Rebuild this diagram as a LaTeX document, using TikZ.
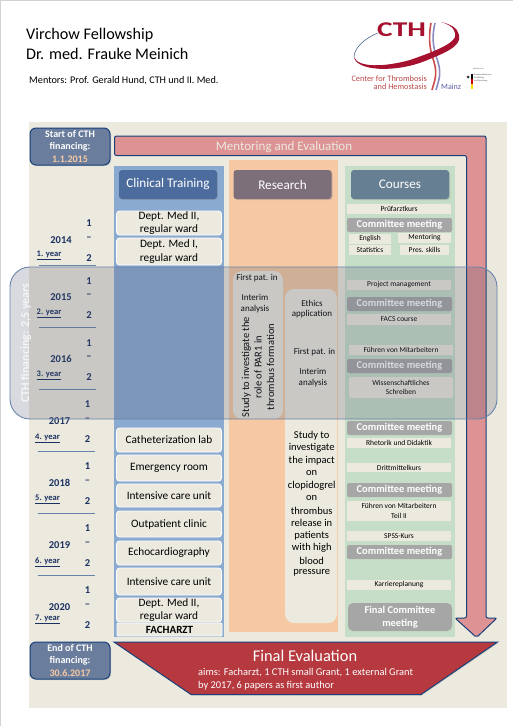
\documentclass[tikz,border=0pt]{standalone}
\usepackage{fontspec}
\setmainfont{Carlito}
\usepackage{tikz}
\usetikzlibrary{shadows}
\definecolor{panelc}{HTML}{ECE9DF}
\definecolor{bluec}{HTML}{8BAAD0}
\definecolor{orangec}{HTML}{F6C9A4}
\definecolor{greenc}{HTML}{C6DDC8}
\definecolor{pinkc}{HTML}{DD9394}
\definecolor{navyc}{HTML}{17407A}
\definecolor{yearc}{HTML}{1B3160}
\definecolor{datec}{HTML}{F6C9A4}
\definecolor{meetc}{HTML}{A6A6A6}
\definecolor{redc}{HTML}{B5393F}
\definecolor{logoc}{HTML}{A5112E}
\definecolor{ovlc}{HTML}{4D566D}
\definecolor{hclinc}{HTML}{4C6C9E}
\definecolor{hresc}{HTML}{7C6F7A}
\definecolor{hcrsc}{HTML}{667F92}
\definecolor{fundc}{HTML}{6B7D9C}
\tikzset{
  fsz/.style={font=\fontsize{#1}{#1}\selectfont},
  hdr/.style={rounded corners=3pt,text=white,minimum width=98pt,minimum height=29pt,inner sep=0pt,fsz=13.2,drop shadow={opacity=.3,shadow xshift=1pt,shadow yshift=-1pt}},
  cell/.style={draw=white,line width=.8pt,fill=panelc,rounded corners=3pt,minimum width=105pt,inner sep=0pt,align=center,font=\fontsize{11.3}{13.7}\selectfont},
  crs/.style={fill=panelc,minimum width=104pt,inner sep=0pt,align=center,font=\fontsize{7.5}{9.2}\selectfont},
  crsb/.style={crs,minimum width=#1},
  meet/.style={fill=meetc,rounded corners=2pt,text=white,minimum width=105pt,minimum height=14pt,inner sep=0pt,align=center,font=\bfseries\fontsize{10.4}{12.5}\selectfont},
  stud/.style={fill=panelc,rounded corners=9pt,inner sep=0pt},
  rtx/.style={inner sep=0pt,align=center,font=\fontsize{9}{10.5}\selectfont},
  big/.style={inner sep=0pt,font=\fontsize{10.5}{12.5}\selectfont},
  fund/.style={draw=navyc,line width=1pt,fill=fundc,rounded corners=6pt,minimum width=80pt,minimum height=37pt,inner sep=0pt,align=center,text=white,font=\bfseries\fontsize{10}{12.3}\selectfont,drop shadow={opacity=.3,shadow xshift=1pt,shadow yshift=-1pt}},
  yr/.style={inner sep=0pt,text=yearc,font=\bfseries\fontsize{10.5}{12}\selectfont},
  yl/.style={inner sep=0pt,text=yearc,font=\bfseries\fontsize{8.5}{10}\selectfont},
  ovl/.style={draw=navyc!65,line width=.9pt,fill=ovlc,fill opacity=.22,rounded corners=20pt,minimum width=487pt,minimum height=152pt,inner sep=0pt}
}
\begin{document}
\begin{tikzpicture}[x=1pt,y=-1pt]
\useasboundingbox (0,0) rectangle (513,726);
\draw[gray!35,line width=1pt] (.5,726) -- (.5,.5) -- (513,.5);
\node[anchor=base west,inner sep=0pt,fsz=16.2] (ttl1) at (26,39) {Virchow Fellowship};
\node[anchor=base west,inner sep=0pt,fsz=16.2] (ttl2) at (26,59) {Dr. med. Frauke Meinich};
\node[anchor=base west,inner sep=0pt,fsz=10.2] (mnt) at (29,83) {Mentors: Prof. Gerald Hund, CTH und II. Med.};
\draw[line width=1.6pt,red!55!gray!90] (431,23) .. controls (428,40) and (430,50) .. (434,62) .. controls (438,75) and (434,82) .. (432,90);
\draw[line width=1.6pt,blue!30!gray!70] (435,23) .. controls (431,40) and (434,50) .. (438,62) .. controls (442,75) and (438,82) .. (436,90);
\fill[logoc] (354,57) .. controls (356,71) and (395,73) .. (425,61) .. controls (445,53) and (462,46) .. (459,35) .. controls (458,28) and (450,24) .. (441,22) .. controls (455,26) and (456,33) .. (455,37) .. controls (452,45) and (430,53) .. (410,60) .. controls (385,67) and (358,68) .. (354,57) -- cycle;
\draw[line width=.5pt,navyc!70!gray] (354,57) .. controls (354,48) and (365,38) .. (378,33);
\node[inner sep=0pt,text=logoc,font=\bfseries\fontsize{21}{21}\selectfont] (cth) at (401.5,29.5) {\scalebox{1.4}[1]{CTH}};
\node[anchor=base east,inner sep=0pt,text=red!45!gray,fsz=8.3] (ctr1) at (427,81) {Center for Thrombosis};
\node[anchor=base east,inner sep=0pt,text=red!45!gray,fsz=8.3] (ctr2) at (427,89.5) {and Hemostasis};
\node[anchor=base west,inner sep=0pt,text=blue!30!gray,fsz=8] (mnz) at (441,89.5) {Mainz};
\fill[black] (471,74) rectangle (473,79);
\fill[red!80!black] (471,79) rectangle (473,84);
\fill[yellow!80!orange] (471,84) rectangle (473,89);
\fill[black!80] (468,77) circle (1.5pt);
\node[anchor=west,inner sep=0pt,align=left,text=black!70,font=\fontsize{2.2}{2.7}\selectfont] (bmb) at (474,78) {Bundesministerium\\für Bildung\\und Forschung};
\node[anchor=west,inner sep=0pt,text=black!70,font=\fontsize{1.8}{2}\selectfont] (gef) at (473,69) {gefördert vom};
\fill[panelc] (29,122) rectangle (507,708);
\node[fund] (fstart) at (70,146.5) {Start of CTH\\financing:\\\textcolor{datec}{1.1.2015}};
\draw[navyc,line width=1pt,fill=pinkc,rounded corners=2pt] (114.5,136) -- (486,136) -- (486,618) -- (497,618) -- (476.5,637.5) -- (455,618) -- (466.5,618) -- (466.5,155.5) -- (114.5,155.5) -- cycle;
\node[inner sep=0pt,text=panelc,fsz=13] (ment) at (284,147) {Mentoring and Evaluation};
\fill[bluec] (114.3,165.7) rectangle (223.7,636.7);
\fill[orangec] (229,160.3) rectangle (338.3,632);
\fill[greenc] (345,165.7) rectangle (455,636.7);
\node[hdr,fill=hclinc] (hclin) at (168,184.5) {Clinical Training};
\node[hdr,fill=hresc] (hres) at (282.5,184.5) {Research};
\node[hdr,fill=hcrsc] (hcrs) at (400,184.5) {Courses};
\foreach \nm/\yy/\hh/\txt in {a/223/24/{Dept. Med II,\\regular ward},b/251.5/27/{Dept. Med I,\\regular ward},c/440/24/Catheterization lab,d/468/26/Emergency room,e/495.5/23/Intensive care unit,f/524/26/Outpatient clinic,g/553/24/Echocardiography,h/581.5/27/Intensive care unit,i/610/24/{Dept. Med II,\\regular ward}}{
  \node[cell,minimum height=\hh pt] (clin\nm) at (169,\yy) {\txt};
}
\node[cell,minimum height=13pt,rounded corners=1pt] (clinj) at (169.5,629.5) {\bfseries\fontsize{11}{12}\selectfont FACHARZT};
\node[stud,minimum width=50pt,minimum height=148pt] (stud1) at (258,345) {};
\node[stud,minimum width=52pt,minimum height=334pt] (stud2) at (311,456) {};
\node[rtx] (fpa) at (257,278) {First pat. in};
\node[rtx] (iaa) at (255,303.5) {Interim\\analysis};
\node[big,rotate=90,align=center] (rot) at (258,367) {Study to investigate the\\role of PAR1 in\\thrombus formation};
\node[rtx] (eth) at (312,309) {Ethics\\application};
\node[rtx] (fpb) at (314.5,352) {First pat. in};
\node[rtx] (iab) at (313,377.5) {Interim\\analysis};
\foreach \yy/\txt [count=\k] in {435.5/Study to,448/investigate,460.5/the impact,473/on,485.5/clopidogrel,498/on,510.5/thrombus,523/release in,535.5/patients,548/with high,560.5/blood,573/pressure}{
  \node[big] (imp\k) at (311.7,\yy) {\txt};
}
\foreach \nm/\yy/\hh/\txt in {a/209/10/Prüfarztkurs,b/285/10/Project management,c/319.5/11/FACS course,d/443/10/Rhetorik und Didaktik,e/467.5/9.5/Drittmittelkurs,f/511/20/{Führen von Mitarbeitern\\Teil II},g/536/10/SPSS-Kurs,h/585/10/Karriereplanung}{
  \node[crs,minimum height=\hh pt] (crs\nm) at (399,\yy) {\txt};
}
\node[crs,minimum height=10pt] (crsi) at (401,350) {Führen von Mitarbeitern};
\node[crs,minimum height=21pt,rounded corners=2pt] (crsj) at (401,387.5) {Wissenschaftliches\\Schreiben};
\node[crsb=42pt,minimum height=10pt] (eng) at (370,239) {English};
\node[crsb=53pt,minimum height=10pt] (mto) at (424.5,238) {Mentoring};
\node[crsb=42pt,minimum height=10pt] (stat) at (370,250) {Statistics};
\node[crsb=49pt,minimum height=10pt] (pres) at (424.5,250) {Pres. skills};
\foreach \nm/\yy in {a/225,b/304,c/366,d/428,e/490,f/552}{
  \node[meet] (meet\nm) at (399.5,\yy) {Committee meeting};
}
\node[meet,minimum width=104pt,minimum height=28pt,rounded corners=5pt] (meetg) at (400,617) {Final Committee\\meeting};
\foreach \yr/\lb/\ya/\yb/\yc/\yd/\ye/\xa in {2014/1/223/240/258/255/265/61,2015/2/281/297/315/313/327.5/61,2016/3/343/359/377/375/389/61,2017/4/404/421/439/438/451/59.5,2018/5/466/483/501/499/513/59.5,2019/6/528/545/563/562/575/59.5,2020/7/590/607/625/619/0/59.5}{
  \node[yr] (one\yr) at (\xa+28,\ya) {1};
  \node[yr] (y\yr) at (\xa,\yb) {\yr};
  \node[yr] (dash\yr) at (\xa+28,\yb-1) {–};
  \node[yr] (two\yr) at (\xa+28,\yc) {2};
  \node[yl] (lab\yr) at (\xa-12,\yd) {\underline{\lb. year}};
  \ifnum\lb<7\draw[navyc!65,line width=.9pt] (\xa-22,\ye) -- (\xa+35,\ye);\fi
}
\node[ovl] (fin) at (253.5,343) {};
\node[rotate=90,inner sep=0pt,text=white!92!gray,font=\bfseries\fontsize{12}{14}\selectfont] (finl) at (26,343) {CTH financing: 2,5 years};
\node[fund] (fend) at (70,660.5) {End of CTH\\financing:\\\textcolor{datec}{30.6.2017}};
\draw[navyc,line width=1pt,fill=redc,drop shadow={opacity=.25,shadow xshift=1pt,shadow yshift=-1pt}] (114,642) -- (497.5,642) -- (421,694.5) -- (191,694.5) -- cycle;
\node[inner sep=0pt,text=white,fsz=16.4] (feval) at (305,656) {Final Evaluation};
\node[anchor=base west,inner sep=0pt,text=white,fsz=10.4] (aim1) at (198,675.5) {aims: Facharzt, 1 CTH small Grant, 1 external Grant};
\node[anchor=base west,inner sep=0pt,text=white,fsz=10.4] (aim2) at (198,688) {by 2017, 6 papers as first author};
\end{tikzpicture}
\end{document}
